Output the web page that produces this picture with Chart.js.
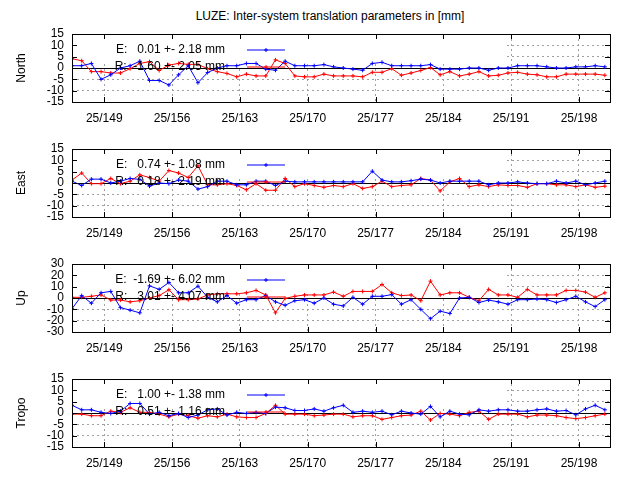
<!DOCTYPE html>
<html>
<head>
<meta charset="utf-8">
<script src="https://cdn.jsdelivr.net/npm/chart.js@4"></script>
<style>
  body { margin: 0; background: #fff; }
  #wrap { position: relative; width: 640px; height: 480px; font-family: "Liberation Sans", Arial, sans-serif; }
  #title { position: absolute; top: 9px; left: 0; width: 660px; text-align: center; font-size: 12px; }
  .panel { position: absolute; left: 0; width: 640px; height: 115px; }
</style>
</head>
<body>
<div id="wrap">
  <div id="title">LUZE: Inter-system translation parameters in [mm]</div>
  <div class="panel" style="top:20px"><canvas id="c0"></canvas></div>
  <div class="panel" style="top:135px"><canvas id="c1"></canvas></div>
  <div class="panel" style="top:250px"><canvas id="c2"></canvas></div>
  <div class="panel" style="top:365px"><canvas id="c3"></canvas></div>
</div>
<script>
// ==========================
// DATA
// ==========================
const firstDay = 145.67;
const lastDay = 201.2;
const dayTicks = [149, 156, 163, 170, 177, 184, 191, 198];

const northE = [1,1,2,-5,-3,0,1,3,-5.5,-5.5, -7.5,-3,1,-6.5,-2,0,1,1,2,2, -0.5,-1,3,1,1,1,1.5,0.5,0,-0.5, -1,2,2.5,1,1,1,1,1.5,-0.5,-0.5, -0.5,0,0,-1,0,0,1,1,1,0.5, 0,0,0.5,0.5,1,0.5];
const northR = [4.1,3.2,-1.6,-1.6,-2.2,-2.2,-0.3,2,2.8,-1.1, 1.3,2,1.6,1.6,-0.3,-1.6,-2.4,-3.9,-2.7,-3.5, -3.5,3.6,2,-3.5,-3.9,-3.9,-2.7,-3.5,-3.5,-3.5, -3.9,-1.9,-1.9,-0.3,-3.2,-2.2,-1.1,0.2,-3,-1.6, -3.5,-2.7,-1.6,-3.5,-3.2,-2.2,-1.9,-2.7,-3,-3.9, -3.9,-2.7,-2.7,-2.7,-2.7,-3.2];
const eastE = [0.8,-1.1,1.7,1.7,0,0.8,2,1.6,-1.4,0, -0.3,1.3,0.8,-2.7,-1.6,0.8,0.8,-0.8,-0.8,0.8, 0.8,-1.1,0.8,0.5,0.5,0.5,0.5,0.5,0.5,0.5, 0.5,5.2,1.3,0.5,0.5,1,1.7,1.3,0,0.8, 0.8,0.8,0.8,-0.8,0,0,0.5,0,-0.3,-0.3, 0.8,0,0.8,-0.8,0,0.8];
const eastR = [1.3,4.4,-0.3,-0.3,2,-0.3,0.8,3.6,2.4,0.8, 5.5,4.4,2.4,7.6,-0.8,-0.8,-0.3,-1.1,-3,-0.3, -3.2,-3.2,2,-1.6,-0.3,-1.1,-1.9,-1.1,-1.6,-0.3, -2.4,-1.6,0.8,-1.6,-1.1,-0.8,2,1.3,-3.5,0.5, 2,-1.6,-0.8,-1.6,-0.8,-1.1,-1.1,-1.9,-0.3,-0.3, -0.8,-0.8,-1.6,-0.8,-1.9,-1.4];
const upE = [-9.5,2.1,-4.6,4.6,5.8,-8.5,-10.7,-13.1,10.7,7.6, 13.7,4.6,4.6,10.4,0.6,-3.4,2.1,-4.6,-1.5,-1.5, 2.1,-3.4,-6.4,-2.4,-1.5,-4.6,0,-5.5,-7,0.6, -5.5,1.5,1.5,3,-5.5,-1.5,-10,-18.3,-11.6,-13.7, 0,0.6,-4,-1.8,-3.4,-5.5,-1.5,-1.5,-0.9,-1.5, -4,-1.5,1.5,-3.4,-7.6,-1.5];
const upR = [0.6,0.6,1.5,2.7,-1.8,-1.8,-3.4,-2.4,0,2.1, 7.3,-1.5,-1.5,-0.9,2.7,3.7,3.7,3.7,4.6,6.7, 2.7,-13.1,-0.3,1.5,2.7,2.7,2.7,5.2,1.5,5.8, 5.8,5.8,11.9,4.6,2.1,2.7,-2.4,14.9,2.7,4.6, 4.6,0.6,-2.4,7.6,2.7,2.7,0.6,7.6,2.7,2.7, 2.7,6.7,6.7,5.2,0.6,4.6];
const tropoE = [3.4,1.4,1.4,0.3,-0.2,0.8,4.2,4.2,-0.5,0.3, -1.2,-0.2,-2,-0.9,1.4,1.8,-0.9,0.3,-0.2,0.3, -0.2,2.6,2.3,1.1,1.1,1.8,0.8,2.3,3.4,0.3, 0.8,0.3,0.8,-0.8,0.8,0,-0.5,2.9,-1.7,0.8, -0.5,-0.8,1.4,0.8,1.4,1.4,0.8,0.8,1.4, 1.8,0.8,1.1,-0.8,1.8,3.4,1.4];
const tropoR = [-0.5,-0.5,-1.2,-1.2,0.8,0.3,2.3,0.3,0.3,-0.5, -1.7,-0.5,-1.2,-2.3,-1.2,-1.7,-0.5,-1.7,-2,-2, -0.2,3.4,-0.5,-0.5,-0.5,-1.2,-0.9,-0.5,-0.5,-1.7, -1.2,-1.2,-2.8,-2,-1.2,-0.9,0.8,-3.1,-0.2,-0.5, -1.2,0.3,0.8,-2.8,-0.5,-0.5,-0.5,-1.7,-0.9,-0.9, -1.2,-2,-2.5,-2,-1.2,-0.5];

const panels = [
  { id: "c0", name: "North", e: northE, r: northR, max: 15, step: 5, keyE: "E:   0.01 +- 2.18 mm", keyR: "R:  -1.60 +- 2.05 mm" },
  { id: "c1", name: "East", e: eastE, r: eastR, max: 15, step: 5, keyE: "E:   0.74 +- 1.08 mm", keyR: "R:   0.18 +- 2.19 mm" },
  { id: "c2", name: "Up", e: upE, r: upR, max: 30, step: 10, keyE: "E:  -1.69 +- 6.02 mm", keyR: "R:   3.01 +- 4.07 mm" },
  { id: "c3", name: "Tropo", e: tropoE, r: tropoR, max: 15, step: 5, keyE: "E:   1.00 +- 1.38 mm", keyR: "R:   0.51 +- 1.16 mm" },
];

const FONT = "Liberation Sans";
const toXY = (arr) => arr.map((v, i) => ({ x: firstDay + i, y: v }));

// key box (opaque, hides grid) + key text + frame with inward ticks
const gnuplotLook = {
  id: "gnuplotLook",
  beforeDatasetsDraw(chart) {
    const { ctx, chartArea: a } = chart;
    ctx.save();
    ctx.fillStyle = "#fff";
    ctx.fillRect(a.left + 1, a.top + 1, 432, a.height * 0.4);
    ctx.restore();
  },
  afterDraw(chart, args, opts) {
    const { ctx, chartArea: a, scales } = chart;
    ctx.save();
    ctx.font = "12px " + FONT;
    ctx.fillStyle = "#000";
    ctx.textAlign = "right";
    ctx.textBaseline = "middle";
    const rows = [[opts.keyE, "#0000ff", 16], [opts.keyR, "#ff0000", 33]];
    rows.forEach(([txt, col, dy]) => {
      ctx.fillText(txt, a.left + 153, a.top + dy);
      ctx.strokeStyle = col;
      ctx.lineWidth = 1;
      ctx.beginPath();
      ctx.moveTo(a.left + 175, a.top + dy);
      ctx.lineTo(a.left + 213, a.top + dy);
      ctx.stroke();
      const mx = a.left + 194;
      ctx.beginPath();
      ctx.moveTo(mx - 2, a.top + dy); ctx.lineTo(mx + 2, a.top + dy);
      ctx.moveTo(mx, a.top + dy - 2); ctx.lineTo(mx, a.top + dy + 2);
      ctx.stroke();
    });
    // frame
    ctx.strokeStyle = "#000";
    ctx.lineWidth = 1;
    ctx.strokeRect(a.left + 0.5, a.top + 0.5, a.width, a.height);
    ctx.beginPath();
    scales.y.ticks.forEach((t) => {
      const y = Math.round(scales.y.getPixelForValue(t.value)) + 0.5;
      ctx.moveTo(a.left, y); ctx.lineTo(a.left + 5, y);
      ctx.moveTo(a.right, y); ctx.lineTo(a.right - 5, y);
    });
    scales.x.ticks.forEach((t) => {
      const x = Math.round(scales.x.getPixelForValue(t.value)) + 0.5;
      ctx.moveTo(x, a.bottom); ctx.lineTo(x, a.bottom - 5);
      ctx.moveTo(x, a.top); ctx.lineTo(x, a.top + 5);
    });
    ctx.stroke();
    ctx.restore();
  },
};

function series(data, color) {
  return {
    data: toXY(data),
    borderColor: color,
    backgroundColor: color,
    borderWidth: 1,
    pointStyle: "cross",
    pointRadius: 2,
    pointBorderWidth: 1,
    tension: 0,
  };
}

panels.forEach((p) => {
  const yTicks = [];
  for (let v = -p.max; v <= p.max; v += p.step) yTicks.push(v);

  new Chart(document.getElementById(p.id), {
    type: "line",
    data: { datasets: [series(p.e, "#0000ff"), series(p.r, "#ff0000")] },
    plugins: [gnuplotLook],
    options: {
      responsive: true,
      maintainAspectRatio: false,
      animation: false,
      layout: { padding: { top: 13, right: 30, left: 0, bottom: 0 } },
      plugins: {
        legend: { display: false },
        tooltip: { enabled: false },
        gnuplotLook: { keyE: p.keyE, keyR: p.keyR },
      },
      scales: {
        x: {
          type: "linear",
          min: firstDay,
          max: lastDay,
          afterBuildTicks: (s) => { s.ticks = dayTicks.map((v) => ({ value: v })); },
          afterFit: (s) => { s.height = 33; },
          ticks: { color: "#000", font: { family: FONT, size: 12 }, padding: 9, maxRotation: 0, autoSkip: false, callback: (v) => "25/" + v },
          grid: { color: "#a0a0a0", lineWidth: 1, drawTicks: false },
          border: { display: false, dash: [2, 3] },
        },
        y: {
          min: -p.max,
          max: p.max,
          afterBuildTicks: (s) => { s.ticks = yTicks.map((v) => ({ value: v })); },
          afterFit: (s) => { s.width = 72; },
          ticks: { color: "#000", font: { family: FONT, size: 12, lineHeight: 1 }, padding: 8, autoSkip: false },
          title: { display: true, text: p.name, color: "#000", font: { family: FONT, size: 12 }, padding: { top: 14, bottom: 0 } },
          grid: {
            drawTicks: false,
            color: (c) => (c.tick && c.tick.value === 0 ? "#000" : "#a0a0a0"),
            lineWidth: 1,
          },
          border: { display: false, dash: (c) => (c.tick && c.tick.value === 0 ? [] : [2, 3]) },
        },
      },
    },
  });
});
</script>
</body>
</html>
